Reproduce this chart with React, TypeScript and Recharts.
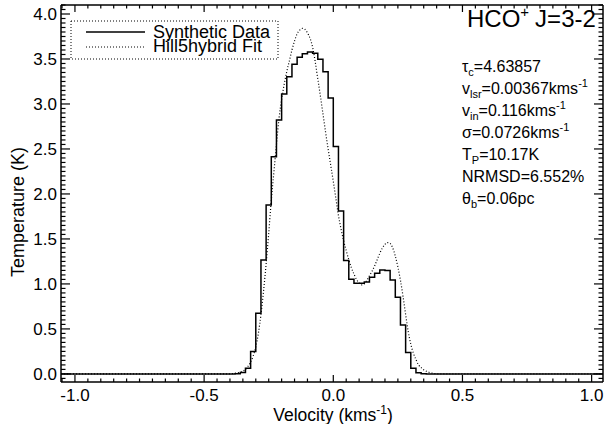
import { Line, LineChart, XAxis, YAxis } from 'recharts';

const X_DOMAIN: [number, number] = [-1.054, 1.044];
const Y_DOMAIN: [number, number] = [-0.09, 4.1];
const FONT = '"Liberation Sans", Arial, Helvetica, sans-serif';

// synthetic spectrum: channel centres (km/s) and brightness temperature (K)
const synthVel = [
  -1.054, -0.39, -0.37, -0.35, -0.33, -0.31, -0.29, -0.27, -0.25, -0.23, -0.21,
  -0.19, -0.17, -0.15, -0.13, -0.11, -0.09, -0.07, -0.05, -0.03, -0.01, 0.01,
  0.03, 0.05, 0.07, 0.09, 0.11, 0.13, 0.15, 0.17, 0.19, 0.21, 0.23, 0.25, 0.27,
  0.29, 0.31, 0.33, 0.35, 0.37, 1.044,
];
const synthTemp = [
  0, 0, 0.003, 0.015, 0.063, 0.248, 0.674, 1.267, 1.878, 2.414, 2.822, 3.111,
  3.303, 3.441, 3.519, 3.559, 3.578, 3.563, 3.497, 3.359, 3.067, 2.526, 1.811,
  1.259, 1.052, 1.008, 1.008, 1.022, 1.074, 1.119, 1.156, 1.148, 1.044, 0.852,
  0.544, 0.237, 0.063, 0.014, 0.003, 0, 0,
];

// Hill5hybrid model fit
const fitVel = [
  -1.054, -0.4, -0.39, -0.38, -0.37, -0.36, -0.35, -0.34, -0.33, -0.32, -0.31,
  -0.3, -0.29, -0.28, -0.27, -0.26, -0.25, -0.24, -0.23, -0.22, -0.21, -0.2,
  -0.19, -0.18, -0.17, -0.16, -0.15, -0.14, -0.13, -0.12, -0.11, -0.1, -0.09,
  -0.08, -0.07, -0.06, -0.05, -0.04, -0.03, -0.02, -0.01, 0, 0.01, 0.02, 0.03,
  0.04, 0.05, 0.06, 0.07, 0.08, 0.09, 0.1, 0.11, 0.12, 0.13, 0.14, 0.15, 0.16,
  0.17, 0.18, 0.19, 0.2, 0.21, 0.22, 0.23, 0.24, 0.25, 0.26, 0.27, 0.28, 0.29,
  0.3, 0.31, 0.32, 0.33, 0.34, 0.35, 0.36, 0.37, 0.38, 0.39, 0.4, 1.044,
];
const fitTemp = [
  0, 0, 0.004, 0.008, 0.013, 0.02, 0.03, 0.05, 0.085, 0.13, 0.2, 0.3, 0.45,
  0.66, 0.92, 1.22, 1.56, 1.93, 2.24, 2.55, 2.84, 3.05, 3.22, 3.36, 3.48, 3.6,
  3.7, 3.78, 3.82, 3.84, 3.83, 3.79, 3.73, 3.63, 3.47, 3.28, 3.09, 2.89, 2.69,
  2.5, 2.32, 2.14, 1.95, 1.76, 1.61, 1.48, 1.37, 1.27, 1.18, 1.11, 1.05, 1.01,
  0.99, 1.0, 1.04, 1.09, 1.14, 1.2, 1.27, 1.34, 1.4, 1.44, 1.46, 1.45, 1.4,
  1.31, 1.19, 1.04, 0.86, 0.66, 0.47, 0.33, 0.23, 0.16, 0.1, 0.07, 0.045, 0.03,
  0.018, 0.01, 0.005, 0, 0,
];

const xMajor = [-1, -0.5, 0, 0.5, 1];
const yMajor = [0, 0.5, 1, 1.5, 2, 2.5, 3, 3.5, 4];

const synth = synthVel.map((v, i) => ({ v, t: synthTemp[i] }));
const fit = fitVel.map((v, i) => ({ v, t: fitTemp[i] }));

// minor ticks every 0.05 on both axes
const ticksIn = (lo: number, hi: number) => {
  const out: number[] = [];
  for (let i = Math.ceil(lo * 20); i <= Math.floor(hi * 20); i++) out.push(Math.round(i * 5) / 100);
  return out;
};
const xTicks = ticksIn(X_DOMAIN[0], X_DOMAIN[1]);
const yTicks = ticksIn(Y_DOMAIN[0], Y_DOMAIN[1]);

const isMajor = (v: number, majors: number[]) => majors.some((m) => Math.abs(m - v) < 1e-6);

const XTick = ({ x, y, payload, side }: any) => {
  const major = isMajor(payload.value, xMajor);
  const len = major ? 7 : 3.5;
  const dir = side === 'bottom' ? -1 : 1;
  return (
    <g>
      <line x1={x} x2={x} y1={y} y2={y + dir * len} stroke="#000" strokeWidth={1.2} />
      {side === 'bottom' && major && (
        <text x={x} y={y + 19} textAnchor="middle" fontSize={17} fontFamily={FONT} fill="#000">
          {payload.value.toFixed(1)}
        </text>
      )}
    </g>
  );
};

const YTick = ({ x, y, payload, side }: any) => {
  const major = isMajor(payload.value, yMajor);
  const len = major ? 9 : 4.5;
  const dir = side === 'left' ? 1 : -1;
  return (
    <g>
      <line x1={x} x2={x + dir * len} y1={y} y2={y} stroke="#000" strokeWidth={1.2} />
      {side === 'left' && major && (
        <text x={x - 4} y={y + 6} textAnchor="end" fontSize={17} fontFamily={FONT} fill="#000">
          {payload.value.toFixed(1)}
        </text>
      )}
    </g>
  );
};

const axisLine = { stroke: '#000', strokeWidth: 1.5 };
const params = [
  { main: 'τ', sub: 'c', rest: '=4.63857', sup: '' },
  { main: 'v', sub: 'lsr', rest: '=0.00367kms', sup: '-1' },
  { main: 'v', sub: 'in', rest: '=0.116kms', sup: '-1' },
  { main: 'σ=0.0726kms', sub: '', rest: '', sup: '-1' },
  { main: 'T', sub: 'P', rest: '=10.17K', sup: '' },
  { main: 'NRMSD=6.552%', sub: '', rest: '', sup: '' },
  { main: 'θ', sub: 'b', rest: '=0.06pc', sup: '' },
];

export default function App() {
  return (
    <div style={{ position: 'absolute', left: 0, top: 0, background: '#fff' }}>
      <LineChart width={605} height={424} margin={{ top: 4, right: 1, bottom: 0, left: 0 }}>
        <XAxis
          xAxisId="b"
          type="number"
          dataKey="v"
          domain={X_DOMAIN}
          allowDataOverflow
          ticks={xTicks}
          interval={0}
          tickSize={0}
          tickMargin={0}
          tickLine={false}
          axisLine={axisLine}
          height={42}
          tick={(p: any) => <XTick {...p} side="bottom" />}
        />
        <XAxis
          xAxisId="t"
          orientation="top"
          type="number"
          dataKey="v"
          domain={X_DOMAIN}
          allowDataOverflow
          ticks={xTicks}
          interval={0}
          tickSize={0}
          tickMargin={0}
          tickLine={false}
          axisLine={axisLine}
          height={1}
          tick={(p: any) => <XTick {...p} side="top" />}
        />
        <YAxis
          yAxisId="l"
          type="number"
          domain={Y_DOMAIN}
          allowDataOverflow
          ticks={yTicks}
          interval={0}
          tickSize={0}
          tickMargin={0}
          tickLine={false}
          axisLine={axisLine}
          width={61}
          tick={(p: any) => <YTick {...p} side="left" />}
        />
        <YAxis
          yAxisId="r"
          orientation="right"
          type="number"
          domain={Y_DOMAIN}
          allowDataOverflow
          ticks={yTicks}
          interval={0}
          tickSize={0}
          tickMargin={0}
          tickLine={false}
          axisLine={axisLine}
          width={1}
          tick={(p: any) => <YTick {...p} side="right" />}
        />
        <Line
          xAxisId="t"
          yAxisId="r"
          data={fit}
          dataKey="t"
          type="monotone"
          stroke="#000"
          strokeWidth={1.2}
          strokeDasharray="1 2"
          dot={false}
          isAnimationActive={false}
        />
        <Line
          xAxisId="b"
          yAxisId="l"
          data={synth}
          dataKey="t"
          type="step"
          stroke="#000"
          strokeWidth={1.5}
          dot={false}
          isAnimationActive={false}
        />

        {/* legend box */}
        <rect x={71} y={21} width={207} height={38} fill="none" stroke="#000" strokeDasharray="1 2" />
        <line x1={86} x2={145} y1={32} y2={32} stroke="#000" strokeWidth={1.5} />
        <line x1={86} x2={145} y1={47} y2={47} stroke="#000" strokeDasharray="1 2" />
        <text x={153} y={37.5} fontSize={18} fontFamily={FONT} fill="#000">Synthetic Data</text>
        <text x={153} y={52} fontSize={18} fontFamily={FONT} fill="#000">Hill5hybrid Fit</text>

        {/* annotations */}
        <text x={467} y={27} fontSize={24} fontFamily={FONT} fill="#000">
          HCO<tspan fontSize={15} dy={-10}>+</tspan>
          <tspan dy={10} dx={6}>J=3-2</tspan>
        </text>
        {params.map((p, i) => (
          <text key={i} x={462} y={72 + i * 22} fontSize={16} fontFamily={FONT} fill="#000">
            {p.main}
            {p.sub && (
              <tspan fontSize={11} dy={4}>
                {p.sub}
              </tspan>
            )}
            {p.rest && <tspan dy={p.sub ? -4 : 0}>{p.rest}</tspan>}
            {p.sup && (
              <tspan fontSize={11} dy={-7}>
                {p.sup}
              </tspan>
            )}
          </text>
        ))}

        {/* axis titles */}
        <text x={333} y={421} textAnchor="middle" fontSize={17.5} fontFamily={FONT} fill="#000">
          Velocity (kms<tspan fontSize={12} dy={-7}>-1</tspan>
          <tspan dy={7}>)</tspan>
        </text>
        <text transform="translate(24, 212) rotate(-90)" textAnchor="middle" fontSize={18} fontFamily={FONT} fill="#000">
          Temperature (K)
        </text>
      </LineChart>
    </div>
  );
}
